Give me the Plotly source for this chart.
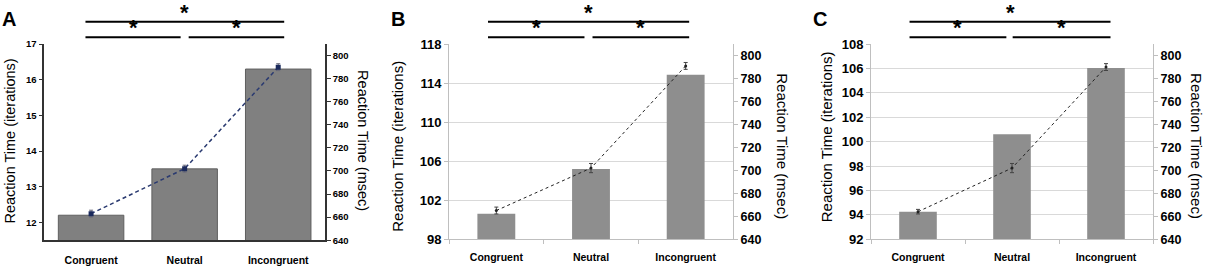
import plotly.graph_objects as go

# ---------------- data ----------------
categories = ["Congruent", "Neutral", "Incongruent"]

iter_A = [12.2, 13.5, 16.3]
msec_A = [663, 702, 790]
msec_err_A = [3, 3, 3]

iter_B = [100.6, 105.2, 114.85]
msec_B = [665, 702, 791]
msec_err_B = [3, 4, 3]

iter_C = [94.25, 100.6, 106.05]
msec_C = [664, 702, 790]
msec_err_C = [2, 4, 3]

left_ticks_A = [12, 13, 14, 15, 16, 17]
left_ticks_B = [98, 102, 106, 110, 114, 118]
left_ticks_C = [92, 94, 96, 98, 100, 102, 104, 106, 108]
right_ticks = [640, 660, 680, 700, 720, 740, 760, 780, 800]

left_title = "Reaction Time (iterations)"
right_title = "Reaction Time (msec)"
panel_labels = ["A", "B", "C"]

# ---------------- layout helpers ----------------
W, H = 1205, 268
FONT = "Liberation Sans, Arial, sans-serif"


def fx(p):
    return p / W


def fy(p):
    return 1 - p / H


fig = go.Figure()

panels = [
    dict(key="A", xa="x", ya="y", ya2="y2", bars=iter_A, ms=msec_A, err=msec_err_A,
         xdom=[44.3, 325], ydom=[247, 39.3], yrange=[11.5, 17], yticks=left_ticks_A,
         style="A", barw=0.7,
         sig=[(-0.06, 2.064, 15.7), (-0.06, 0.957, 32), (1.043, 2.064, 32)],
         ltitle=(10, 142.5), rtitle=(363, 141), label=(9, 12.5), tsize=14.5),
    dict(key="B", xa="x2", ya="y3", ya2="y4", bars=iter_B, ms=msec_B, err=msec_err_B,
         xdom=[449, 733], ydom=[246, 39.3], yrange=[98, 118], yticks=left_ticks_B,
         style="BC", barw=0.4,
         sig=[(-0.088, 2.037, 15.7), (-0.088, 0.931, 32), (1.016, 2.037, 32)],
         ltitle=(398, 148), rtitle=(782.5, 147), label=(398, 12.5), tsize=15),
    dict(key="C", xa="x3", ya="y5", ya2="y6", bars=iter_C, ms=msec_C, err=msec_err_C,
         xdom=[871, 1153], ydom=[246, 39.3], yrange=[92, 108], yticks=left_ticks_C,
         style="BC", barw=0.4,
         sig=[(-0.09, 2.048, 15.7), (-0.09, 0.94, 32), (1.007, 2.048, 32)],
         ltitle=(826, 138), rtitle=(1196.7, 147), label=(819.5, 12.5), tsize=15),
]

shapes = []
annotations = []
layout_axes = {}

for p in panels:
    if p["style"] == "A":
        bar_marker = dict(color="#808080", line=dict(color="#5f5f5f", width=1))
        line_style = dict(color="#2a3a70", width=1.5, dash="4px,3px")
        mk = dict(symbol="square", size=5, color="#1b2a5c")
        err_col = "#6a6a7a"
        axcol = "#333333"
        axw = 1.5
        tick_sz = 9.5
        rtick_sz = 9.5
        xstand = 5
    else:
        bar_marker = dict(color="#8e8e8e", line=dict(color="#8e8e8e", width=0))
        line_style = dict(color="#222222", width=1, dash="dot")
        mk = dict(symbol="circle", size=3, color="#222222")
        err_col = "#444444"
        axcol = "#bfbfbf"
        axw = 1
        tick_sz = 13
        rtick_sz = 12.5
        xstand = 8

    fig.add_trace(go.Bar(x=categories, y=p["bars"], xaxis=p["xa"], yaxis=p["ya"],
                         width=p["barw"], marker=bar_marker, showlegend=False,
                         hoverinfo="skip"))
    fig.add_trace(go.Scatter(x=categories, y=p["ms"], xaxis=p["xa"], yaxis=p["ya2"],
                             mode="lines+markers", line=line_style, marker=mk,
                             error_y=dict(type="data", array=p["err"], color=err_col,
                                          thickness=1, width=2),
                             showlegend=False))

    xname = "xaxis" if p["xa"] == "x" else "xaxis" + p["xa"][1:]
    yname = "yaxis" if p["ya"] == "y" else "yaxis" + p["ya"][1:]
    y2name = "yaxis" + p["ya2"][1:]

    xax = dict(domain=[fx(p["xdom"][0]), fx(p["xdom"][1])], anchor=p["ya"],
               type="category", range=[-0.5, 2.5], showline=True, linecolor=axcol,
               linewidth=axw, showgrid=False, zeroline=False, fixedrange=True,
               ticklabelstandoff=xstand,
               tickfont=dict(family=FONT, size=10.5, color="black", weight="bold"))
    if p["style"] == "A":
        xax.update(ticks="outside", ticklen=4, tickcolor="rgba(0,0,0,0)")
    else:
        xax.update(ticks="outside", ticklen=4, tickcolor=axcol, tickson="boundaries")

    yax = dict(domain=[fy(p["ydom"][0]), fy(p["ydom"][1])], anchor=p["xa"],
               range=p["yrange"], tickmode="array", tickvals=p["yticks"],
               showline=True, linecolor=axcol, linewidth=axw, ticks="outside",
               ticklen=4, tickcolor=axcol, zeroline=False,
               showgrid=(p["style"] != "A"), gridcolor="#d9d9d9", gridwidth=1,
               tickfont=dict(family=FONT, size=tick_sz, color="black", weight="bold"))
    y2ax = dict(overlaying=p["ya"], side="right", anchor=p["xa"], range=[640, 810],
                tickmode="array", tickvals=right_ticks, showline=True, linecolor=axcol,
                linewidth=axw, ticks="outside", ticklen=4, tickcolor=axcol,
                showgrid=False, zeroline=False,
                tickfont=dict(family=FONT, size=rtick_sz, color="black", weight="bold"))
    layout_axes[xname] = xax
    layout_axes[yname] = yax
    layout_axes[y2name] = y2ax

    # significance brackets
    for (x0, x1, ypx) in p["sig"]:
        shapes.append(dict(type="line", xref=p["xa"], yref="paper", x0=x0, x1=x1,
                           y0=fy(ypx), y1=fy(ypx), line=dict(color="black", width=2)))
        annotations.append(dict(text="*", xref=p["xa"], yref="paper", x=(x0 + x1) / 2,
                                y=fy(ypx - 10), xanchor="center", yanchor="middle",
                                showarrow=False,
                                font=dict(family=FONT, size=22, color="black",
                                          weight="bold")))

    annotations.append(dict(text=left_title, xref="paper", yref="paper",
                            x=fx(p["ltitle"][0]), y=fy(p["ltitle"][1]), textangle=-90,
                            xanchor="center", yanchor="middle", showarrow=False,
                            font=dict(family=FONT, size=p["tsize"], color="black")))
    annotations.append(dict(text=right_title, xref="paper", yref="paper",
                            x=fx(p["rtitle"][0]), y=fy(p["rtitle"][1]), textangle=90,
                            xanchor="center", yanchor="middle", showarrow=False,
                            font=dict(family=FONT, size=p["tsize"], color="black")))
    annotations.append(dict(text=p["key"], xref="paper", yref="paper",
                            x=fx(p["label"][0]), y=fy(p["label"][1]),
                            xanchor="center", yanchor="middle", showarrow=False,
                            font=dict(family=FONT, size=20, color="black",
                                      weight="bold")))

fig.update_layout(width=W, height=H, autosize=False,
                  margin=dict(l=0, r=0, t=0, b=0, pad=0),
                  paper_bgcolor="white", plot_bgcolor="white",
                  showlegend=False, shapes=shapes, annotations=annotations,
                  **layout_axes)

fig.write_html("out.html",
               config={"displayModeBar": False},
               post_script="document.body.style.margin='0';"
                           "document.body.style.padding='0';"
                           "document.documentElement.style.overflow='hidden';")
